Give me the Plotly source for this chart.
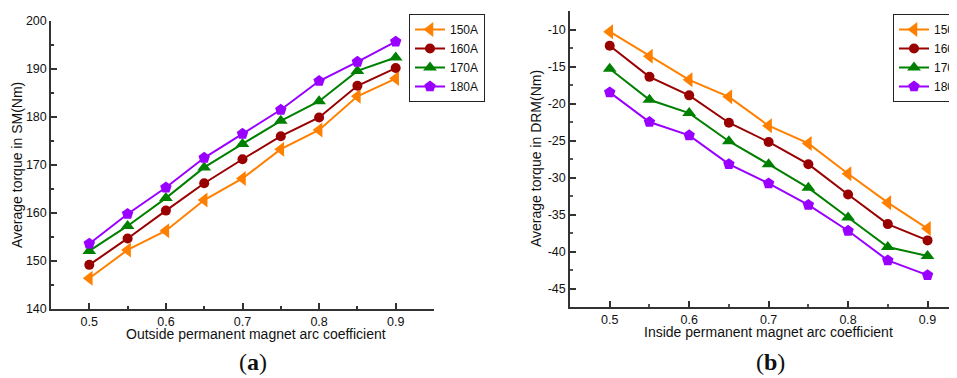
import plotly.graph_objects as go

W, H = 957, 378
OFF = 8  # default page body margin of the browser

x_coef = [0.5, 0.55, 0.6, 0.65, 0.7, 0.75, 0.8, 0.85, 0.9]
series_names = ["150A", "160A", "170A", "180A"]

sm_150 = [146.4, 152.3, 156.3, 162.7, 167.2, 173.3, 177.3, 184.3, 188.0]
sm_160 = [149.2, 154.7, 160.5, 166.2, 171.2, 176.0, 179.9, 186.5, 190.2]
sm_170 = [152.1, 157.3, 163.1, 169.5, 174.4, 179.2, 183.3, 189.6, 192.4]
sm_180 = [153.6, 159.8, 165.3, 171.5, 176.5, 181.5, 187.5, 191.5, 195.7]

drm_150 = [-10.3, -13.6, -16.8, -19.1, -23.0, -25.4, -29.5, -33.4, -36.9]
drm_160 = [-12.2, -16.4, -18.9, -22.6, -25.2, -28.2, -32.3, -36.3, -38.5]
drm_170 = [-15.3, -19.5, -21.3, -25.1, -28.2, -31.4, -35.4, -39.4, -40.6]
drm_180 = [-18.5, -22.5, -24.3, -28.2, -30.8, -33.7, -37.2, -41.2, -43.2]

sm_ticks = [140, 150, 160, 170, 180, 190, 200]
drm_ticks = [-45, -40, -35, -30, -25, -20, -15, -10]
drm_ticktext = ["-45", "-40", "-35", "-30", "-25", "-20", "-15", "-10"]
x_ticks = [0.5, 0.6, 0.7, 0.8, 0.9]

colors = ["#FF8000", "#990000", "#008000", "#9900FF"]
symbols = ["triangle-left", "circle", "triangle-up", "pentagon"]
sizes = [13, 10, 12, 12]

FONT = "Liberation Sans, Arial, sans-serif"

fig = go.Figure()
for name, ys, c, s, sz in zip(series_names, [sm_150, sm_160, sm_170, sm_180], colors, symbols, sizes):
    fig.add_trace(go.Scatter(x=x_coef, y=ys, name=name, mode="lines+markers",
                             line=dict(color=c, width=2),
                             marker=dict(symbol=s, size=sz, color=c, line=dict(width=0)),
                             xaxis="x", yaxis="y", legend="legend"))
for name, ys, c, s, sz in zip(series_names, [drm_150, drm_160, drm_170, drm_180], colors, symbols, sizes):
    fig.add_trace(go.Scatter(x=x_coef, y=ys, name=name, mode="lines+markers",
                             line=dict(color=c, width=2),
                             marker=dict(symbol=s, size=sz, color=c, line=dict(width=0)),
                             xaxis="x2", yaxis="y2", legend="legend2"))

def px_x(p):
    return (p - OFF) / W

def px_y(p):
    return 1 - (p - OFF) / H

axis_common = dict(showgrid=False, zeroline=False, showline=True, linecolor="#333333", linewidth=1.5,
                   ticks="inside", ticklen=6, tickwidth=1.5, tickcolor="#333333",
                   tickfont=dict(family=FONT, size=12.5, color="#111111"))

legend_common = dict(xanchor="left", yanchor="top", bordercolor="#222222", borderwidth=1, bgcolor="white",
                     font=dict(family=FONT, size=12, color="#111111"), tracegroupgap=0, itemwidth=30)

x2_end_px = 965
fig.update_layout(
    width=W, height=H,
    margin=dict(l=0, r=0, t=0, b=0, autoexpand=False),
    paper_bgcolor="white", plot_bgcolor="white",
    showlegend=True,
    xaxis=dict(domain=[px_x(51), px_x(434)], range=[0.45, 0.95], tickvals=x_ticks,
               minor=dict(dtick=0.05, tick0=0.45, ticks="inside", ticklen=3, tickcolor="#333333", tickwidth=1.5),
               anchor="y", **axis_common),
    yaxis=dict(domain=[px_y(309), px_y(21)], range=[140, 200], tickvals=sm_ticks,
               minor=dict(dtick=5, tick0=140, ticks="inside", ticklen=3, tickcolor="#333333", tickwidth=1.5),
               anchor="x", **axis_common),
    xaxis2=dict(domain=[px_x(570), px_x(x2_end_px)], range=[0.45, 0.45 + (x2_end_px - 570) / 794.5],
                tickvals=x_ticks,
                minor=dict(dtick=0.05, tick0=0.45, ticks="inside", ticklen=3, tickcolor="#555555", tickwidth=1.5),
                anchor="y2", **axis_common),
    yaxis2=dict(domain=[px_y(307), px_y(11)], range=[-47.5, -7.5], tickvals=drm_ticks, ticktext=drm_ticktext,
                minor=dict(dtick=2.5, tick0=-47.5, ticks="inside", ticklen=3, tickcolor="#555555", tickwidth=1.5),
                anchor="x2", **axis_common),
    legend=dict(x=px_x(409), y=px_y(14), **legend_common),
    legend2=dict(x=px_x(893), y=px_y(14), **legend_common),
)

annotations = [
    dict(text="Average torque in SM(Nm)", x=px_x(17), y=px_y(165), textangle=-90),
    dict(text="Outside permanent magnet arc coefficient", x=px_x(256), y=px_y(334), textangle=0),
    dict(text="Average torque in DRM(Nm)", x=px_x(536), y=px_y(159), textangle=-90),
    dict(text="Inside permanent magnet arc coefficient", x=px_x(768), y=px_y(332), textangle=0),
]
for a in annotations:
    fig.add_annotation(xref="paper", yref="paper", xanchor="center", yanchor="middle", showarrow=False,
                       font=dict(family=FONT, size=14, color="#111111"), **a)

for txt, xc in [("(<b>a</b>)", 253), ("(<b>b</b>)", 770)]:
    fig.add_annotation(text=txt, xref="paper", yref="paper", x=px_x(xc), y=px_y(362),
                       xanchor="center", yanchor="middle", showarrow=False,
                       font=dict(family="Liberation Serif, Times New Roman, serif", size=24, color="#111111"))

fig.write_html("out.html")
